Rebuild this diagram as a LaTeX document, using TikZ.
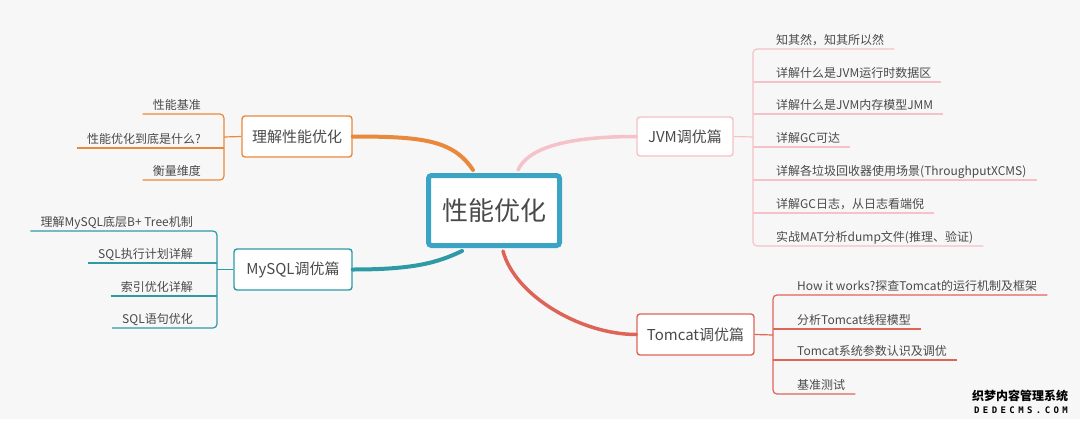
\documentclass[tikz,border=0pt]{standalone}
\usepackage{fontspec}
\setmainfont{Noto Sans CJK SC}
\newfontfamily\markfont{DejaVu Sans Mono}[LetterSpace=38]
\usetikzlibrary{calc}
\definecolor{bgc}{HTML}{F8F7F8}
\definecolor{rootc}{HTML}{3BA3C4}
\definecolor{perfc}{HTML}{E9893C}
\definecolor{sqlc}{HTML}{2E9AA6}
\definecolor{jvmc}{HTML}{F4C2C8}
\definecolor{tomc}{HTML}{DF6458}
\definecolor{txt}{HTML}{4A4A4A}
\begin{document}
\begin{tikzpicture}[x=1pt,y=-1pt,
  branch/.style={draw,fill=white,rounded corners=3pt,line width=1.4pt,text=txt,inner sep=0pt,font=\fontsize{15}{18}\selectfont},
  leaf/.style={text=txt,font=\fontsize{12}{14}\selectfont,inner xsep=10pt,inner ysep=2.4pt,text height=10pt,text depth=2pt},
  twig/.style={line width=1.2pt,rounded corners=4pt},
  limb/.style={line width=4pt,line cap=round}]
  \fill[white] (0,0) rectangle (1080,424);
  \fill[bgc] (0,0) rectangle (1080,419);
  \useasboundingbox (0,0) rectangle (1080,424);

  \node[branch,draw=rootc,line width=5pt,minimum width=131pt,minimum height=70pt,font=\fontsize{26}{30}\selectfont] (root) at (494,210.5) {性能优化};
  \node[branch,draw=perfc,minimum width=110pt,minimum height=41pt] (perf) at (297,136.5) {理解性能优化};
  \node[branch,draw=sqlc,minimum width=118pt,minimum height=41pt] (mysql) at (293,269.5) {MySQL调优篇};
  \node[branch,draw=jvmc,minimum width=96pt,minimum height=39pt] (jvm) at (685,136.5) {JVM调优篇};
  \node[branch,draw=tomc,minimum width=117pt,minimum height=41pt] (tomcat) at (695.5,334.5) {Tomcat调优篇};

  \draw[limb,perfc] (perf.east) .. controls +(70,0) and +(-20,-30) .. ($(root.north)+(-21,-3)$);
  \draw[limb,jvmc,line width=3.5pt] ($(root.north)+(24,-3)$) .. controls +(10,-22) and +(-70,0) .. (jvm.west);
  \draw[limb,sqlc] (mysql.east) .. controls +(60,0) and +(-25,12) .. ($(root.south)+(-32,3)$);
  \draw[limb,tomc,line width=3.5pt] ($(root.south)+(9,3)$) .. controls +(12,45) and +(-55,0) .. (tomcat.west);

  \coordinate (hp) at (224,137);
  \node[leaf,anchor=south east] (p1) at (211,114) {性能基准};
  \node[leaf,anchor=south east] (p2) at (211,148) {性能优化到底是什么?};
  \node[leaf,anchor=south east] (p3) at (211,180) {衡量维度};
  \draw[twig,perfc] (p1.south west) -| (hp) |- (p3.south west);
  \draw[twig,perfc] (p2.south west) -- (p2.south west -| hp);
  \draw[twig,perfc] (perf.west) -- (hp);

  \coordinate (hs) at (217,268);
  \node[leaf,anchor=south east] (s1) at (203,231) {理解MySQL底层B+ Tree机制};
  \node[leaf,anchor=south east] (s2) at (203,263) {SQL执行计划详解};
  \node[leaf,anchor=south east] (s3) at (203,296) {索引优化详解};
  \node[leaf,anchor=south east] (s4) at (203,328) {SQL语句优化};
  \draw[twig,sqlc] (s1.south west) -| (hs) |- (s4.south west);
  \foreach \s in {s2,s3}
    \draw[twig,sqlc] (\s.south west) -- (\s.south west -| hs);
  \draw[twig,sqlc] (mysql.west) -- (mysql.west -| hs);

  \coordinate (hj) at (753,137);
  \node[leaf,anchor=south west] (j1) at (766,49) {知其然，知其所以然};
  \node[leaf,anchor=south west] (j2) at (766,82) {详解什么是JVM运行时数据区};
  \node[leaf,anchor=south west] (j3) at (766,114) {详解什么是JVM内存模型JMM};
  \node[leaf,anchor=south west] (j4) at (766,147) {详解GC可达};
  \node[leaf,anchor=south west] (j5) at (766,180) {详解各垃圾回收器使用场景(ThroughputXCMS)};
  \node[leaf,anchor=south west] (j6) at (766,213) {详解GC日志，从日志看端倪};
  \node[leaf,anchor=south west] (j7) at (766,246) {实战MAT分析dump文件(推理、验证)};
  \draw[twig,jvmc] (j1.south east) -| (hj) |- (j7.south east);
  \foreach \j in {j2,j3,j4,j5,j6}
    \draw[twig,jvmc] (\j.south east) -- (\j.south west -| hj);
  \draw[twig,jvmc] (jvm.east) -- (hj);

  \coordinate (ht) at (773,335);
  \node[leaf,anchor=south west] (t1) at (787,295) {How it works?探查Tomcat的运行机制及框架};
  \node[leaf,anchor=south west] (t2) at (787,329) {分析Tomcat线程模型};
  \node[leaf,anchor=south west] (t3) at (787,360) {Tomcat系统参数认识及调优};
  \node[leaf,anchor=south west] (t4) at (787,394) {基准测试};
  \draw[twig,tomc] (t1.south east) -| (ht) |- (t4.south east);
  \foreach \t in {t2,t3}
    \draw[twig,tomc] (\t.south east) -- (\t.south west -| ht);
  \draw[twig,tomc] (tomcat.east) -- (ht);

  \node[font=\bfseries\fontsize{12}{14}\selectfont,inner sep=0pt] (mark) at (1020,396) {织梦内容管理系统};
  \node[font=\markfont\bfseries\fontsize{9}{11}\selectfont,inner sep=0pt] (site) at (1021,410.5) {DEDECMS.COM};
\end{tikzpicture}
\end{document}
